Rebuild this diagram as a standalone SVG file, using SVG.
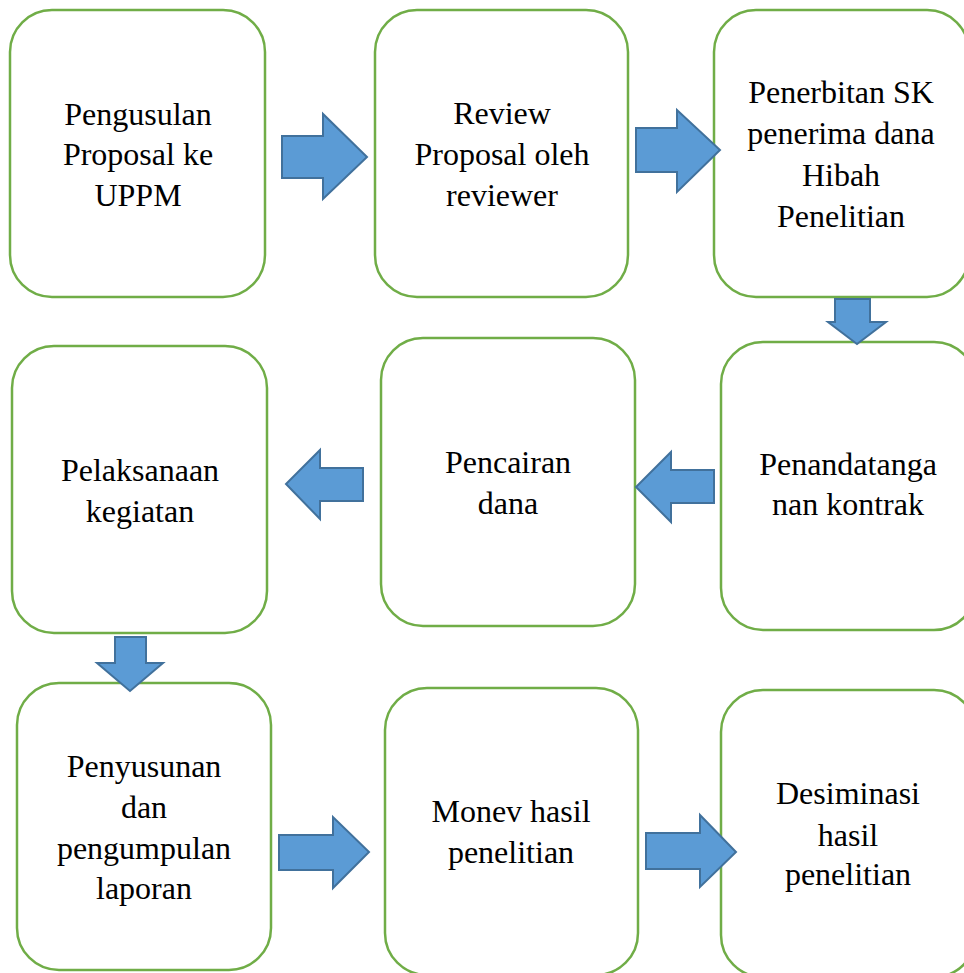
<svg xmlns="http://www.w3.org/2000/svg" width="964" height="973" viewBox="0 0 964 973">
<style>
.box{fill:#fff;stroke:#70AD47;stroke-width:2.5}
.arr{fill:#5B9BD5;stroke:#41719C;stroke-width:2;stroke-linejoin:miter}
.t{font-family:'Liberation Serif','Times New Roman',serif;font-size:32px;fill:#000;text-anchor:middle}
</style>
<rect width="964" height="973" fill="#fff"/>
<g id="n1"><rect class="box" x="10" y="10" width="255" height="287" rx="42"/>
<text class="t" x="138" y="125">Pengusulan</text><text class="t" x="138" y="165">Proposal ke</text><text class="t" x="138" y="206">UPPM</text></g>
<g id="n2"><rect class="box" x="375" y="10" width="253" height="287" rx="42"/>
<text class="t" x="502" y="124">Review</text><text class="t" x="502" y="165">Proposal oleh</text><text class="t" x="502" y="206">reviewer</text></g>
<g id="n3"><rect class="box" x="714" y="10" width="255" height="287" rx="42"/>
<text class="t" x="841" y="103">Penerbitan SK</text><text class="t" x="841" y="144">penerima dana</text><text class="t" x="841" y="186">Hibah</text><text class="t" x="841" y="227">Penelitian</text></g>
<g id="n4"><rect class="box" x="12" y="346" width="255" height="287" rx="42"/>
<text class="t" x="140" y="481">Pelaksanaan</text><text class="t" x="140" y="522">kegiatan</text></g>
<g id="n5"><rect class="box" x="381" y="338" width="254" height="288" rx="42"/>
<text class="t" x="508" y="473">Pencairan</text><text class="t" x="508" y="514">dana</text></g>
<g id="n6"><rect class="box" x="721" y="342" width="255" height="288" rx="42"/>
<text class="t" x="848" y="475">Penandatanga</text><text class="t" x="848" y="515">nan kontrak</text></g>
<g id="n7"><rect class="box" x="17" y="683" width="254" height="287" rx="42"/>
<text class="t" x="144" y="777">Penyusunan</text><text class="t" x="144" y="818">dan</text><text class="t" x="144" y="859">pengumpulan</text><text class="t" x="144" y="899">laporan</text></g>
<g id="n8"><rect class="box" x="385" y="688" width="253" height="287" rx="42"/>
<text class="t" x="511" y="822">Monev hasil</text><text class="t" x="511" y="863">penelitian</text></g>
<g id="n9"><rect class="box" x="721" y="690" width="255" height="287" rx="42"/>
<text class="t" x="848" y="804">Desiminasi</text><text class="t" x="848" y="846">hasil</text><text class="t" x="848" y="885">penelitian</text></g>
<g id="connectors">
<polygon class="arr" points="282,136 323,136 323,114 367,157 323,199 323,178 282,178"/>
<polygon class="arr" points="636,128 677,128 677,110 720,150 677,192 677,172 636,172"/>
<polygon class="arr" points="835,299 870,299 870,322 886,322 857,344 828,322 835,322"/>
<polygon class="arr" points="714,470 671,470 671,452 636,487 671,522 671,503 714,503"/>
<polygon class="arr" points="363,468 320,468 320,450 286,484 320,519 320,501 363,501"/>
<polygon class="arr" points="115,637 146,637 146,663 163,663 130,691 97,663 115,663"/>
<polygon class="arr" points="279,835 333,835 333,817 369,852 333,888 333,870 279,870"/>
<polygon class="arr" points="646,833 700,833 700,815 736,852 700,887 700,869 646,869"/>
</g>
</svg>
